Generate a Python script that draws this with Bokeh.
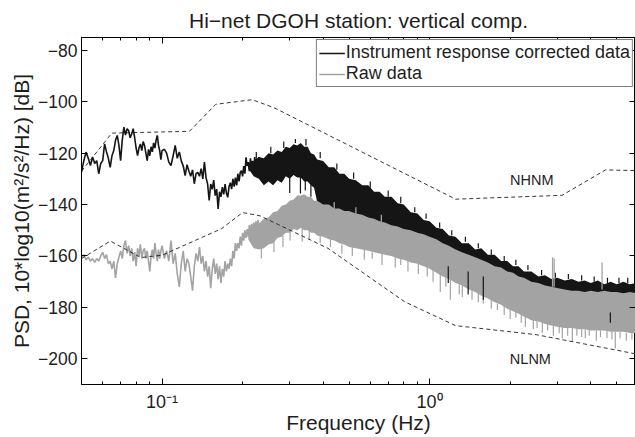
from bokeh.plotting import figure
from bokeh.models import (Range1d, FixedTicker, LogAxis, LinearAxis, Legend, LegendItem,
                          Label, CustomJSTickFormatter)
from bokeh.embed import file_html
from bokeh.resources import INLINE

# ---------------- data ----------------
# low-frequency part of the spectra (Hz, dB)
freq_lf = [0.050, 0.051, 0.052, 0.053, 0.054, 0.055, 0.056, 0.057, 0.058, 0.059,
           0.060, 0.061, 0.062, 0.063, 0.064, 0.065, 0.066, 0.067, 0.068, 0.069,
           0.070, 0.071, 0.072, 0.073, 0.074, 0.075, 0.076, 0.077, 0.078, 0.079,
           0.080, 0.081, 0.082, 0.083, 0.084, 0.085, 0.086, 0.087, 0.088, 0.089,
           0.090, 0.091, 0.092, 0.093, 0.094, 0.095, 0.096, 0.097, 0.098, 0.099,
           0.100, 0.102, 0.104, 0.106, 0.108, 0.110, 0.112, 0.114, 0.116, 0.118,
           0.120, 0.122, 0.124, 0.126, 0.128, 0.130, 0.132, 0.134, 0.136, 0.138,
           0.140, 0.142, 0.144, 0.146, 0.148, 0.150, 0.152, 0.154, 0.156, 0.158,
           0.160, 0.162, 0.164, 0.166, 0.168, 0.170, 0.172, 0.174, 0.176, 0.178,
           0.180, 0.182, 0.184, 0.186, 0.188, 0.190, 0.192, 0.194, 0.196, 0.198,
           0.200, 0.202, 0.204, 0.206, 0.208, 0.210, 0.212, 0.214, 0.216, 0.218,
           0.220, 0.222, 0.224, 0.226, 0.228, 0.230]

corrected_lf = [-127.4, -123, -119.6, -122, -124.8, -121.5, -124, -122.9, -128, -124,
                -122.9, -116.4, -119.5, -122, -125.5, -121, -119, -115, -113.1, -117,
                -122.9, -115, -109.9, -113, -110.5, -111.2, -114, -112.5, -110.5, -114,
                -118, -120.9, -118, -116.4, -119, -115.5, -117, -120, -122.9, -118.5,
                -121, -117.5, -119.5, -116, -118, -115, -113.1, -117, -119, -122.5,
                -119, -118.5, -120, -123.5, -124.8, -121, -117, -122, -119.5, -123,
                -125, -128.7, -124.5, -127, -129, -126.5, -131.9, -128, -127.5, -129,
                -126, -130, -123.5, -129.5, -132, -138.4, -132, -134, -130.5, -136.5,
                -134, -141.7, -135, -137, -133.2, -136, -132, -135.5, -137.2, -133,
                -131.5, -134, -130, -133, -129.5, -132.5, -128, -131, -127.5, -126.8,
                -129, -125, -128, -121.6, -125, -123.5, -127, -122, -125.5, -123,
                -127, -121.5, -125, -122, -126, -121.5]

raw_lf = [-160.5, -159.5, -161.5, -160.5, -162, -161, -162.5, -161, -162, -160,
          -158.5, -161, -159.5, -163, -162, -165, -162, -168.5, -163, -160.5,
          -158, -161, -156, -154, -159, -156, -160, -157, -162, -158.5,
          -164, -157, -160, -155.5, -161, -158, -157, -161, -158, -162,
          -166, -160, -157.5, -161, -155, -159, -162, -157.5, -161, -158,
          -156, -161, -158, -162, -154, -163, -159, -167, -172, -163,
          -158, -166, -161, -163, -168, -173.5, -164, -159, -162, -156.5,
          -163, -160, -166, -162, -168, -164, -172.5, -165, -161, -167,
          -163, -169, -164, -170.5, -165, -168, -162, -166, -163, -165,
          -161, -164, -158, -161, -155, -158, -155, -157, -152.5, -156,
          -151, -154, -150, -153, -149.5, -152.5, -148, -151.5, -147.5, -150.5,
          -147, -150, -146.5, -149.5, -146, -148.5]

# dense high-frequency part: envelopes of the noise band (Hz, dB)
freq_band = [0.21, 0.22, 0.23, 0.24, 0.25, 0.26, 0.27, 0.28, 0.29, 0.30,
             0.31, 0.32, 0.33, 0.34, 0.35, 0.36, 0.37, 0.38, 0.40, 0.42,
             0.44, 0.46, 0.48, 0.50, 0.53, 0.56, 0.59, 0.62, 0.65, 0.68,
             0.72, 0.76, 0.80, 0.85, 0.90, 0.95, 1.00, 1.06, 1.12, 1.18,
             1.25, 1.32, 1.40, 1.48, 1.56, 1.65, 1.75, 1.85, 1.95, 2.05,
             2.15, 2.25, 2.40, 2.55, 2.70, 2.85, 3.00, 3.20, 3.40, 3.60,
             3.80, 4.00, 4.25, 4.50, 4.75, 5.00, 5.30, 5.60, 5.90]

corrected_hi = [-124.5, -123, -121.5, -122, -120, -120.5, -119, -119.5, -117.5, -118,
                -116.5, -117, -116, -117.5, -117.5, -120, -120.5, -122.5, -123, -125.5,
                -125.5, -128, -128, -130, -130.5, -132.5, -132.5, -135, -135, -137,
                -137, -139.5, -140, -143, -143.5, -146, -146.5, -149, -149.5, -152,
                -152.5, -155, -155, -157.5, -157, -159.5, -159.5, -162, -162, -164,
                -164, -166, -166, -168, -167.5, -169, -168.5, -169.5, -169, -170,
                -169.5, -170.5, -169.5, -171, -170, -171, -170, -171, -170.5]
corrected_lo = [-126, -129, -130, -132.5, -131, -132.5, -130.5, -131.5, -129, -130,
                -128.5, -129.5, -129.5, -131, -131, -132.5, -133.5, -139, -141.5, -142,
                -143.5, -144, -145, -145, -146, -146.5, -147.5, -148, -149, -149.5,
                -150.5, -151, -152, -152.5, -153.5, -154, -155, -156, -158.5, -160,
                -161.5, -163, -164.5, -166, -167, -168.5, -169.5, -170.5, -171.5, -172.5,
                -173.5, -174.5, -175.5, -176, -176.5, -177, -177, -177.5, -177.5, -177.5,
                -177.5, -177.5, -178, -178, -178, -178, -178, -178, -178]
raw_hi = [-151, -148.5, -147.5, -145.5, -145, -143, -142.5, -140.5, -140, -138.5,
          -138, -136.5, -136.5, -136, -137, -137, -138.5, -138.5, -140, -140,
          -141.5, -141.5, -142.5, -142.5, -143.5, -144, -145, -145.5, -146.5, -147,
          -148, -148.5, -149.5, -150, -151, -151.5, -152.5, -153.5, -155, -156,
          -157.5, -158.5, -159.5, -160.5, -161.5, -162.5, -164, -164.5, -166, -166.5,
          -168, -168.5, -170, -170.5, -171.5, -172, -172.5, -173, -173.5, -173.5,
          -174, -173.5, -174, -173.5, -174, -174, -174.5, -174, -174.5]
raw_lo = [-153.5, -157, -157.5, -157, -155.5, -155, -153, -152.5, -151, -151,
          -149.5, -150, -149, -150, -150, -151, -151, -152, -152.5, -153.5,
          -154, -155, -155.5, -156.5, -157, -157.5, -158, -158.5, -159, -159.5,
          -160, -161, -161.5, -162.5, -163, -164, -165, -166.5, -168, -169,
          -170.5, -171.5, -173, -174, -175.5, -176.5, -178, -179, -180.5, -181.5,
          -182.5, -183.5, -185, -185.5, -186.5, -187, -187.5, -188, -188, -188.5,
          -188.5, -189, -189, -189, -189.5, -189.5, -189.5, -190, -190]

# isolated spikes (Hz, start dB, tip dB)
raw_dip_f = [0.235, 0.262, 0.283, 0.301, 0.334, 0.355, 0.39, 0.426, 0.47, 0.514,
             0.57, 0.61, 0.664, 0.744, 0.78, 0.83, 0.907, 0.98, 1.03, 1.096,
             1.15, 1.195, 1.29, 1.325, 1.44, 1.52, 1.587, 1.70, 1.791, 1.90,
             2.00, 2.10, 2.20, 2.279, 2.441, 2.52, 2.637, 2.76, 2.90, 3.05,
             3.133, 3.28, 3.414, 3.55, 3.70, 3.818, 3.95, 4.197, 4.35, 4.60,
             4.80, 4.942, 5.15, 5.433, 5.70]
raw_dip_from = [-156, -154, -152, -150, -148.5, -150, -151.5, -153.5, -155.5, -156.5,
                -157.5, -158.5, -159, -160.5, -161, -162, -163, -164.5, -165.5, -166.5,
                -168, -169, -171, -171.5, -173, -174.5, -175.5, -177, -178.5, -179.5,
                -180.5, -181.5, -182.5, -183, -184.5, -185, -186, -186.5, -187, -187.5,
                -187.5, -188, -188, -188, -188.5, -188.5, -188.5, -189, -189, -189,
                -189.5, -189.5, -189.5, -190, -190]
raw_dip_to = [-161, -158.5, -156.5, -154, -154.5, -153.5, -155, -156.5, -159, -160,
              -161.5, -161, -163.5, -164.5, -163.5, -166, -167, -168, -170, -174,
              -172, -177, -175, -176, -177, -178, -178.5, -180.5, -181, -183,
              -184.5, -184, -186, -187.5, -188.5, -188, -190, -189, -191, -190,
              -192, -191, -193.5, -191, -191.5, -192, -191, -193, -191.5, -192,
              -192.5, -196, -192, -193, -192.5]
raw_peak_f = [0.44, 0.53, 0.66, 2.88, 2.92, 4.41]
raw_peak_from = [-142, -144, -147, -172, -172, -173]
raw_peak_to = [-139, -141, -144, -160.5, -161, -162.5]
corr_peak_f = [0.225, 0.255, 0.285, 0.315, 0.345, 0.39, 0.45, 0.52, 0.60, 0.70,
               0.78, 0.88, 0.97, 1.09, 1.21, 1.36, 1.52, 1.70, 1.90, 2.10,
               2.33, 2.62, 2.95, 3.30, 3.70, 4.12, 4.62, 5.10, 5.50]
corr_peak_from = [-122, -120, -118, -116, -117, -122, -126.5, -130, -133.5, -137,
                  -139.5, -143, -145.5, -149, -152, -154.5, -157, -159.5, -162, -163.5,
                  -165.5, -167.5, -168.5, -169, -169.5, -170, -170.5, -170.5, -170.5]
corr_peak_to = [-119.5, -117.5, -115.5, -114.5, -114.5, -119.5, -124, -127.5, -131, -134.5,
                -137, -141, -143.5, -147, -150, -152.5, -155, -157.5, -160, -161.5,
                -163.5, -165.5, -166.5, -167, -167.5, -168, -168.5, -168.5, -168.5]
corr_dip_f = [0.300, 0.329, 0.343, 0.360, 1.174, 1.393, 1.587, 4.735]
corr_dip_from = [-129.5, -129, -130, -132, -164, -166, -168, -182]
corr_dip_to = [-135.5, -135.7, -134.5, -137, -170.5, -175, -177, -186]

# Peterson noise models as drawn (velocity PSD)
nhnm_f = [0.05, 0.0649, 0.1266, 0.1587, 0.2174, 0.2632, 1.25, 3.125, 4.545, 5.9]
nhnm_db = [-127.0, -112.2, -111.5, -101.0, -99.2, -102.4, -137.9, -136.4, -126.5, -126.8]
nlnm_f = [0.05, 0.0641, 0.0833, 0.1, 0.1667, 0.2, 0.2326, 0.4167, 0.8065, 1.25, 2.5, 5.9]
nlnm_db = [-161.0, -154.2, -160.6, -159.7, -149.4, -143.1, -144.4, -157.0, -177.8, -187.1,
           -190.6, -198.1]

x_major_ticks = [0.1, 1.0]
x_tick_labels = ["10\u207b\u00b9", "10\u2070"]
x_minor_ticks = [0.06, 0.07, 0.08, 0.09, 0.2, 0.3, 0.4, 0.5, 0.6, 0.7, 0.8, 0.9,
                 2.0, 3.0, 4.0, 5.0]
y_ticks = [-200, -180, -160, -140, -120, -100, -80]
y_tick_labels = ["\u2212200", "\u2212180", "\u2212160", "\u2212140", "\u2212120",
                 "\u2212100", "\u221280"]

# ---------------- figure ----------------
FONT = "Liberation Sans"
TXT = "#1e1e1e"
BLACK = "#151515"
GREY = "#a3a3a3"

p = figure(width=635, height=437, x_axis_type="log",
           x_range=Range1d(0.05, 5.88), y_range=Range1d(-210, -75),
           output_backend="svg", toolbar_location=None,
           min_border_left=81, min_border_right=0, min_border_top=37, min_border_bottom=53)
p.background_fill_color = "white"
p.border_fill_color = "white"
p.outline_line_color = "black"
p.outline_line_width = 1
p.grid.visible = False

p.title.text = "Hi\u2212net DGOH station: vertical comp."
p.title.text_font = FONT
p.title.text_font_size = "21px"
p.title.text_font_style = "normal"
p.title.text_color = TXT
p.title.align = "center"
p.title.standoff = 12

xt = FixedTicker(ticks=x_major_ticks, minor_ticks=x_minor_ticks)
yt = FixedTicker(ticks=y_ticks)

xa = p.xaxis[0]
xa.ticker = xt
xa.major_label_overrides = dict(zip(x_major_ticks, x_tick_labels))
xa.major_tick_in, xa.major_tick_out = 6, 0
xa.minor_tick_in, xa.minor_tick_out = 3, 0
xa.major_label_text_font = FONT
xa.major_label_text_font_size = "18px"
xa.major_label_text_color = TXT
xa.major_label_standoff = 7
xa.axis_label = "Frequency (Hz)"
xa.axis_label_text_font = FONT
xa.axis_label_text_font_size = "21px"
xa.axis_label_text_font_style = "normal"
xa.axis_label_text_color = TXT
xa.axis_label_standoff = -4
xa.axis_line_color = "black"

ya = p.yaxis[0]
ya.ticker = yt
ya.major_label_overrides = dict(zip(y_ticks, y_tick_labels))
ya.major_tick_in, ya.major_tick_out = 6, 0
ya.minor_tick_in, ya.minor_tick_out = 0, 0
ya.major_label_text_font = FONT
ya.major_label_text_font_size = "17.5px"
ya.major_label_text_color = TXT
ya.major_label_standoff = 4
ya.axis_label = "PSD, 10*log10(m\u00b2/s\u00b2/Hz) [dB]"
ya.axis_label_text_font = FONT
ya.axis_label_text_font_size = "21px"
ya.axis_label_text_font_style = "normal"
ya.axis_label_text_color = TXT
ya.axis_label_standoff = 2
ya.axis_line_color = "black"

blank = CustomJSTickFormatter(code="return ''")
top = LogAxis(ticker=xt, formatter=blank, major_tick_in=6, major_tick_out=0,
              minor_tick_in=3, minor_tick_out=0, major_label_standoff=0,
              major_label_text_font_size="0px", axis_line_color="black")
p.add_layout(top, "above")
right = LinearAxis(ticker=yt, formatter=blank, major_tick_in=6, major_tick_out=0,
                   minor_tick_in=0, minor_tick_out=0, major_label_standoff=0,
                   major_label_text_font_size="0px", axis_line_color=None)
p.add_layout(right, "right")

# ---------------- data glyphs ----------------
r_corr = p.line(freq_lf, corrected_lf, line_color=BLACK, line_width=1.6)
p.varea(x=freq_band, y1=corrected_lo, y2=corrected_hi, fill_color=BLACK)
p.segment(x0=corr_peak_f, y0=corr_peak_from, x1=corr_peak_f, y1=corr_peak_to,
          line_color=BLACK, line_width=1.2)
p.segment(x0=corr_dip_f[:4], y0=corr_dip_from[:4], x1=corr_dip_f[:4], y1=corr_dip_to[:4],
          line_color=BLACK, line_width=1.2)

r_raw = p.line(freq_lf, raw_lf, line_color=GREY, line_width=1.6)
p.varea(x=freq_band, y1=raw_lo, y2=raw_hi, fill_color=GREY)
p.segment(x0=raw_dip_f, y0=raw_dip_from, x1=raw_dip_f, y1=raw_dip_to,
          line_color=GREY, line_width=1.2)
p.segment(x0=raw_peak_f, y0=raw_peak_from, x1=raw_peak_f, y1=raw_peak_to,
          line_color=GREY, line_width=1.3)
p.segment(x0=corr_dip_f[4:], y0=corr_dip_from[4:], x1=corr_dip_f[4:], y1=corr_dip_to[4:],
          line_color=BLACK, line_width=1.2)

p.line(nhnm_f, nhnm_db, line_color="#202020", line_width=0.9, line_dash="4 3")
p.line(nlnm_f, nlnm_db, line_color="#202020", line_width=0.9, line_dash="4 3")

for name, fx, dbv in [("NHNM", 2.41, -130.3), ("NLNM", 2.38, -200.2)]:
    p.add_layout(Label(x=fx, y=dbv, text=name, text_font=FONT, text_font_size="14.5px",
                       text_color=TXT, text_align="center", text_baseline="middle"))

legend = Legend(items=[LegendItem(label="Instrument response corrected data", renderers=[r_corr]),
                       LegendItem(label="Raw data", renderers=[r_raw])],
                location="top_right", margin=2, padding=2, spacing=0,
                label_text_font=FONT, label_text_font_size="18px", label_text_color=TXT,
                label_standoff=1, glyph_width=26, glyph_height=20, label_height=20,
                border_line_color="black", border_line_width=1,
                background_fill_color="white", background_fill_alpha=1.0)
p.add_layout(legend)

open("out.html", "w").write(file_html(p, INLINE))
